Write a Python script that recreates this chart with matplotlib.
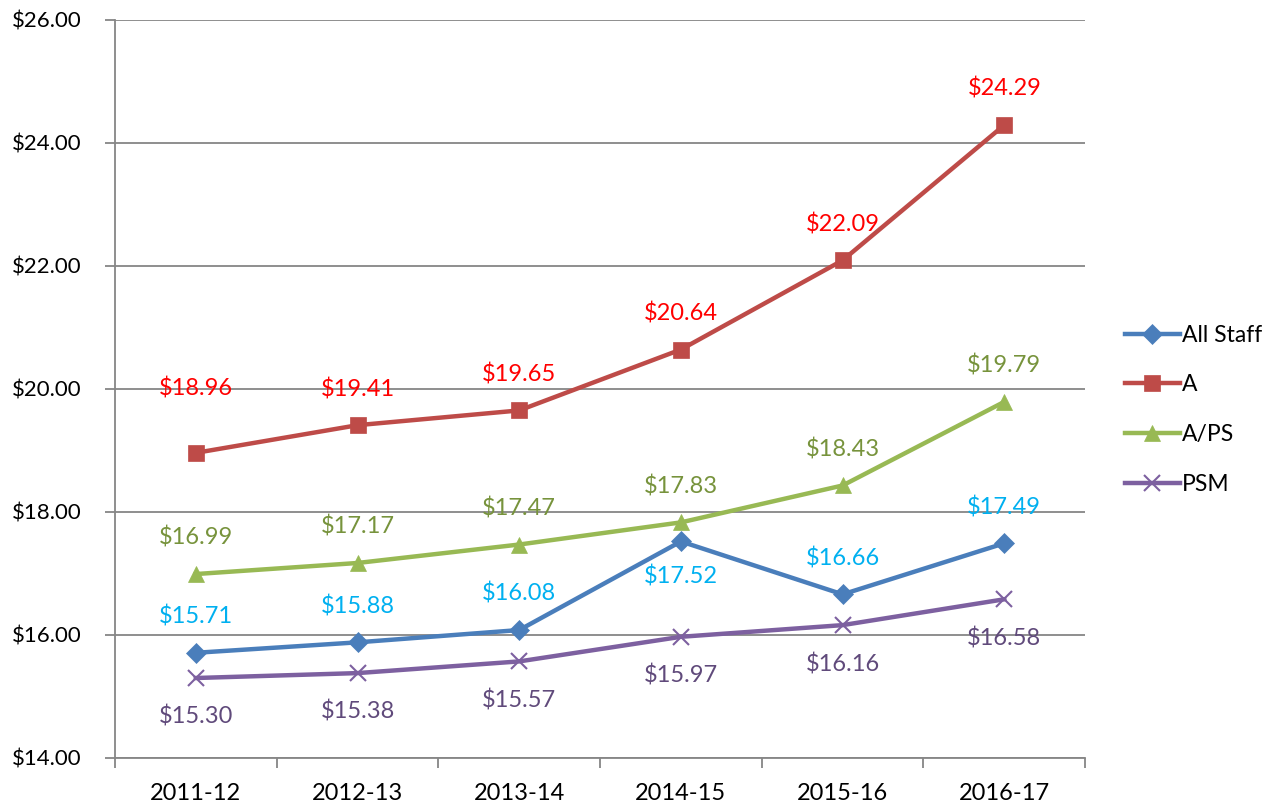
import numpy as np
import matplotlib
matplotlib.use("Agg")
import matplotlib.pyplot as plt

plt.rcParams['font.family'] = ['Lato', 'DejaVu Sans']

years = ["2011-12", "2012-13", "2013-14", "2014-15", "2015-16", "2016-17"]
all_staff = [15.71, 15.88, 16.08, 17.52, 16.66, 17.49]
a_vals = [18.96, 19.41, 19.65, 20.64, 22.09, 24.29]
aps_vals = [16.99, 17.17, 17.47, 17.83, 18.43, 19.79]
psm_vals = [15.30, 15.38, 15.57, 15.97, 16.16, 16.58]

# label offsets in points (positive = above the marker)
off_all = [26, 26, 26, -25, 26, 26]
off_a = [46, 26, 26, 26, 26, 26]
off_aps = [26, 26, 26, 26, 26, 26]
off_psm = [-28, -28, -28, -28, -28, -28]

series = [
    ("All Staff", all_staff, "#4A7EBB", "D", 10, "#00B0F0", off_all),
    ("A", a_vals, "#BE4B48", "s", 11, "#FF0000", off_a),
    ("A/PS", aps_vals, "#98B954", "^", 12, "#77933C", off_aps),
    ("PSM", psm_vals, "#7D60A0", "x", 11, "#604A7B", off_psm),
]

fig = plt.figure(figsize=(12.8, 8.05), dpi=100)
ax = fig.add_axes([0.0898, 0.0584, 0.758, 0.917])
x = np.arange(len(years))

for name, vals, col, mk, ms, lcol, offs in series:
    ax.plot(x, vals, color=col, lw=3.2, marker=mk, markersize=ms,
            markeredgewidth=1.5 if mk == "x" else 0.5, markeredgecolor=col,
            label=name, zorder=3)
    for xi, v, o in zip(x, vals, offs):
        ax.annotate(f"${v:.2f}", (xi, v), xytext=(0, o), textcoords="offset points",
                    ha="center", va="center", color=lcol, fontsize=17)

ax.set_ylim(14, 26)
ax.set_xlim(-0.5, 5.5)
ax.set_yticks(np.arange(14, 26.1, 2))
ax.set_yticklabels([f"${t:.2f}" for t in np.arange(14, 26.1, 2)])
ax.set_xticks(x)
ax.set_xticklabels(years)
ax.set_xticks(np.arange(-0.5, 5.6, 1), minor=True)
ax.tick_params(axis="x", which="major", length=0, pad=18, labelsize=17)
ax.tick_params(axis="x", which="minor", length=7, color="#868686", width=1.3)
ax.tick_params(axis="y", length=7, color="#868686", width=1.3, labelsize=16, pad=17)
ax.grid(axis="y", color="#868686", lw=1.3, zorder=0)
for s in ["top", "right"]:
    ax.spines[s].set_visible(False)
for s in ["left", "bottom"]:
    ax.spines[s].set_color("#868686")
    ax.spines[s].set_linewidth(1.3)

fig.legend(loc="center left", bbox_to_anchor=(0.866, 0.491), frameon=False,
           fontsize=16.5, handlelength=2.4, labelspacing=1.25, handletextpad=0.1,
           borderpad=0.2)

fig.savefig("out.png", dpi=100)
